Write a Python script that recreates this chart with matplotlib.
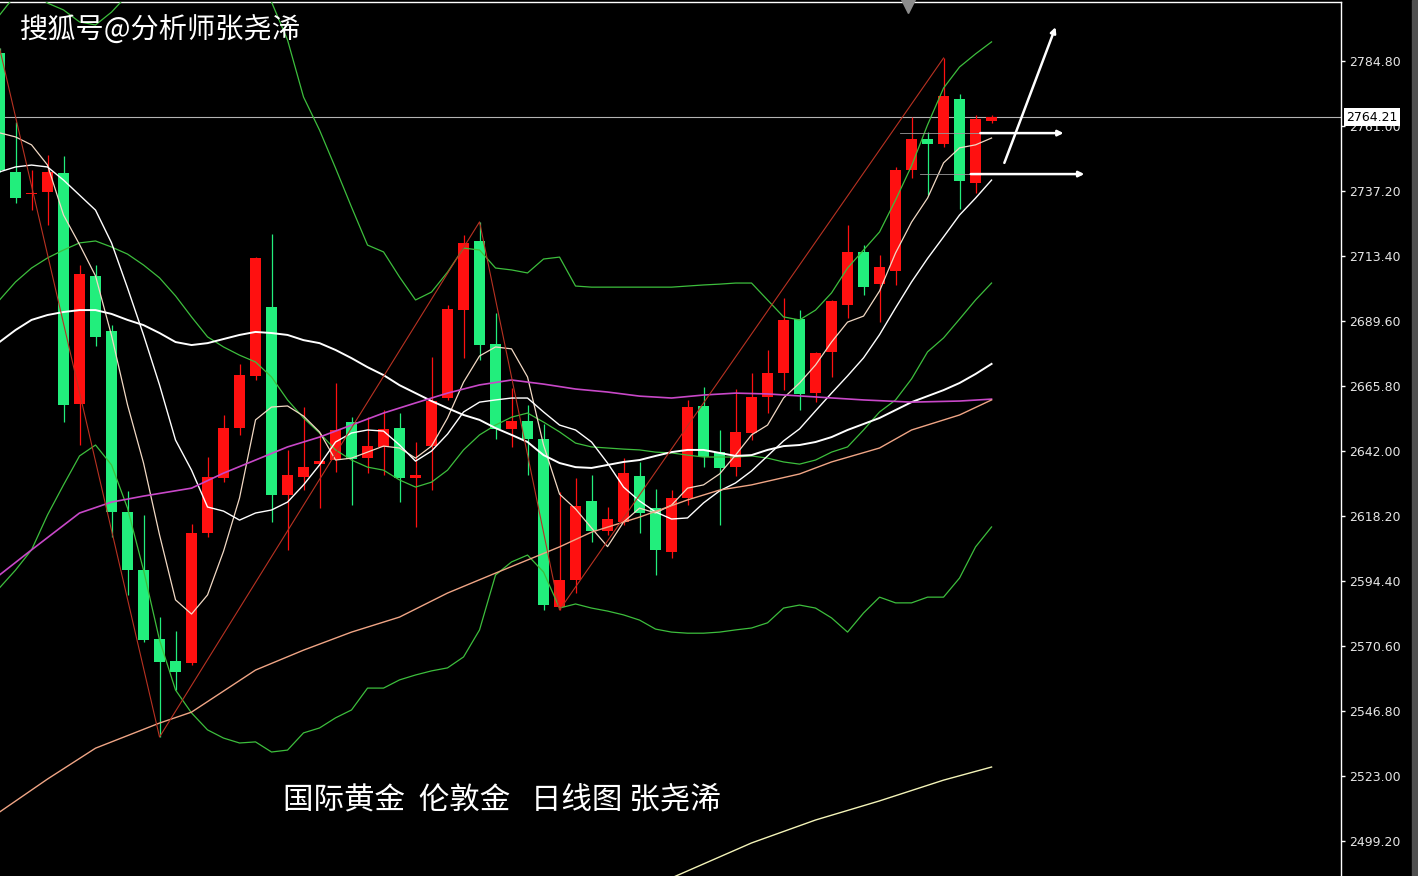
import matplotlib
matplotlib.use("Agg")
import matplotlib.pyplot as plt
import numpy as np

# --- daily London gold candles, oldest first ---------------------------------
opens = [2787.7, 2744.2, 2736.1, 2736.8, 2743.8, 2659.2, 2706.1, 2685.9, 2619.7, 2598.4,
         2573.2, 2565.1, 2564.4, 2612.0, 2632.1, 2650.4, 2669.5, 2694.7, 2625.9, 2632.5,
         2637.2, 2638.7, 2652.6, 2639.4, 2643.5, 2650.4, 2632.1, 2643.8, 2661.4, 2693.6,
         2718.9, 2681.2, 2650.1, 2653.0, 2646.4, 2584.9, 2594.8, 2623.7, 2612.7, 2616.0,
         2632.9, 2621.1, 2605.0, 2624.8, 2658.5, 2641.6, 2636.1, 2648.6, 2661.8, 2670.6,
         2690.3, 2663.3, 2678.3, 2695.5, 2714.9, 2703.2, 2707.9, 2744.9, 2756.2, 2754.4,
         2770.9, 2740.1, 2762.8]
highs = [2789.6, 2762.5, 2744.9, 2750.4, 2750.0, 2710.1, 2710.1, 2688.1, 2627.4, 2618.6,
         2581.2, 2576.1, 2615.3, 2639.8, 2655.2, 2673.9, 2713.0, 2721.5, 2642.4, 2658.1,
         2648.6, 2666.9, 2654.5, 2654.5, 2657.0, 2655.9, 2645.3, 2676.4, 2695.5, 2721.1,
         2725.9, 2692.5, 2665.1, 2658.9, 2651.9, 2627.0, 2632.1, 2633.2, 2621.5, 2639.4,
         2638.0, 2628.1, 2627.7, 2660.7, 2665.4, 2649.7, 2664.7, 2670.6, 2679.0, 2698.0,
         2693.6, 2678.3, 2697.3, 2724.8, 2717.4, 2713.8, 2746.0, 2764.3, 2758.8, 2785.9,
         2772.7, 2765.0, 2765.0]
lows = [2744.2, 2732.8, 2730.2, 2724.8, 2652.6, 2644.2, 2680.5, 2610.5, 2589.3, 2572.0,
        2537.3, 2554.5, 2563.6, 2610.5, 2630.6, 2647.9, 2668.0, 2616.0, 2605.8, 2627.7,
        2621.1, 2634.3, 2622.2, 2633.9, 2633.2, 2623.3, 2614.2, 2627.7, 2660.7, 2676.1,
        2675.3, 2646.4, 2643.5, 2633.2, 2583.8, 2583.8, 2590.0, 2608.7, 2611.2, 2614.9,
        2612.0, 2596.6, 2602.8, 2622.2, 2636.1, 2614.9, 2632.9, 2646.0, 2655.9, 2664.4,
        2657.0, 2659.9, 2669.1, 2690.7, 2699.1, 2689.2, 2702.8, 2742.0, 2735.7, 2753.3,
        2730.6, 2736.5, 2762.1]
closes = [2744.9, 2734.6, 2736.5, 2744.2, 2658.9, 2706.8, 2683.8, 2619.7, 2598.4, 2572.8,
          2564.7, 2561.1, 2612.0, 2632.5, 2650.4, 2669.8, 2712.7, 2625.9, 2633.2, 2636.1,
          2638.3, 2649.7, 2639.1, 2643.8, 2650.1, 2632.1, 2633.2, 2660.3, 2694.0, 2718.2,
          2680.8, 2650.1, 2653.0, 2646.4, 2585.6, 2594.8, 2621.9, 2612.7, 2617.1, 2633.9,
          2619.3, 2605.8, 2624.8, 2658.1, 2639.8, 2635.8, 2649.0, 2661.8, 2670.6, 2690.0,
          2662.9, 2677.9, 2696.9, 2714.9, 2702.1, 2709.4, 2744.9, 2756.2, 2754.4, 2772.0,
          2740.9, 2763.6, 2764.21]

# --- overlays, one value per bar ---------------------------------------------
ma5 = [2758.5, 2757.0, 2754.1, 2746.7, 2728.4, 2717.6, 2706.1, 2684.3, 2658.9, 2637.6,
       2611.3, 2587.5, 2582.3, 2589.3, 2605.3, 2624.8, 2653.4, 2658.1, 2658.5, 2654.8,
       2649.0, 2638.7, 2639.4, 2641.6, 2643.8, 2643.1, 2639.4, 2643.8, 2654.1, 2667.2,
       2676.8, 2680.1, 2679.4, 2669.1, 2644.2, 2626.2, 2620.8, 2613.8, 2607.0, 2616.0,
       2621.1, 2619.3, 2622.2, 2628.4, 2629.6, 2633.6, 2640.5, 2647.9, 2651.5, 2661.4,
       2666.9, 2673.5, 2681.9, 2689.2, 2691.4, 2700.6, 2714.5, 2725.8, 2734.6, 2747.5,
       2753.0, 2754.1, 2756.6]
ma10 = [2744.2, 2746.0, 2746.7, 2746.0, 2741.2, 2735.7, 2730.2, 2718.2, 2701.7, 2684.5,
        2666.2, 2646.0, 2635.0, 2621.5, 2620.0, 2616.7, 2619.3, 2620.4, 2623.3, 2629.6,
        2636.9, 2645.3, 2648.6, 2649.7, 2649.3, 2644.2, 2638.3, 2642.0, 2648.2, 2656.3,
        2659.9, 2660.7, 2661.4, 2661.4, 2656.3, 2651.5, 2649.7, 2645.3, 2637.6, 2628.8,
        2623.7, 2619.7, 2617.1, 2617.5, 2623.0, 2627.4, 2630.3, 2634.7, 2640.2, 2645.7,
        2650.1, 2656.7, 2663.2, 2669.5, 2676.1, 2684.6, 2694.4, 2703.9, 2712.5, 2720.4,
        2728.4, 2734.6, 2741.2]
ma30 = [2681.9, 2686.3, 2690.0, 2691.8, 2692.9, 2693.6, 2693.6, 2692.2, 2690.0, 2688.1,
        2685.2, 2681.9, 2680.8, 2681.5, 2683.0, 2684.5, 2685.6, 2685.2, 2684.5, 2682.6,
        2681.5, 2679.0, 2676.0, 2672.7, 2669.8, 2666.1, 2663.2, 2660.3, 2657.7, 2655.2,
        2653.4, 2650.4, 2647.9, 2645.3, 2640.5, 2637.6, 2636.1, 2635.8, 2636.9, 2638.0,
        2638.7, 2640.2, 2641.6, 2642.4, 2642.4, 2641.3, 2640.2, 2640.5, 2642.4, 2643.8,
        2644.2, 2645.3, 2647.1, 2649.7, 2651.9, 2654.1, 2657.0, 2659.9, 2662.1, 2664.3,
        2666.9, 2670.2, 2673.9]
boll_up = [2801.6, 2809.0, 2810.8, 2806.0, 2803.5, 2799.1, 2798.0, 2802.7, 2809.0, 2821.8,
           2838.3, 2845.6, 2838.3, 2829.1, 2823.6, 2818.1, 2812.6, 2806.4, 2792.5, 2771.6,
           2759.5, 2745.6, 2731.3, 2717.4, 2714.9, 2705.7, 2697.3, 2700.2, 2707.5, 2716.3,
           2715.6, 2709.0, 2708.3, 2707.2, 2712.3, 2713.0, 2702.4, 2702.0, 2702.0, 2702.0,
           2702.0, 2702.0, 2702.0, 2702.4, 2702.8, 2703.1, 2703.5, 2703.5, 2697.3, 2691.1,
           2690.0, 2693.6, 2699.9, 2709.0, 2715.6, 2722.2, 2733.9, 2746.4, 2761.4, 2774.9,
           2782.6, 2787.4, 2791.8]
boll_mid = [2697.3, 2703.9, 2709.0, 2712.7, 2715.6, 2718.2, 2718.9, 2716.7, 2714.1, 2710.1,
            2705.4, 2698.8, 2691.1, 2683.8, 2680.1, 2677.1, 2674.6, 2669.1, 2660.7, 2654.1,
            2648.6, 2642.4, 2638.7, 2636.1, 2635.0, 2631.4, 2628.8, 2630.6, 2635.0, 2642.4,
            2647.9, 2651.5, 2654.4, 2655.9, 2652.6, 2649.0, 2644.9, 2643.5, 2643.1, 2642.7,
            2642.4, 2641.6, 2641.3, 2640.5, 2639.8, 2639.8, 2639.8, 2640.2, 2639.4, 2638.0,
            2637.2, 2638.7, 2641.6, 2643.5, 2649.7, 2656.3, 2660.7, 2668.4, 2678.3, 2683.4,
            2690.3, 2697.3, 2703.5]
boll_low = [2591.9, 2598.4, 2605.8, 2618.6, 2629.6, 2640.2, 2644.2, 2636.9, 2621.1, 2598.4,
            2572.8, 2554.5, 2546.1, 2539.9, 2536.9, 2535.1, 2535.5, 2531.8, 2532.5, 2538.8,
            2540.6, 2544.3, 2547.2, 2555.2, 2555.2, 2558.2, 2560.0, 2561.5, 2562.6, 2566.6,
            2576.5, 2596.6, 2601.4, 2603.9, 2597.7, 2584.5, 2586.0, 2584.5, 2583.4, 2582.0,
            2580.1, 2576.8, 2575.7, 2575.3, 2575.3, 2575.7, 2576.5, 2577.2, 2579.1, 2584.5,
            2585.6, 2584.5, 2580.9, 2575.7, 2582.7, 2588.5, 2586.4, 2586.4, 2588.5, 2588.5,
            2595.5, 2606.9, 2614.2]

# slower averages, read at a few bars only
ma60_bar = [0, 2, 5, 7, 9, 12, 14, 16, 18, 20, 22, 24, 26, 28, 30, 32, 34, 36, 38, 40,
            42, 44, 46, 48, 51, 54, 57, 60, 62]
ma60 = [2596.6, 2605.8, 2619.3, 2623.3, 2625.5, 2628.4, 2633.9, 2638.7, 2643.5, 2647.1,
        2651.5, 2655.9, 2659.6, 2663.2, 2666.2, 2668.0, 2666.5, 2664.7, 2663.6, 2662.1,
        2661.4, 2662.5, 2663.2, 2662.9, 2661.8, 2660.7, 2659.9, 2660.3, 2661.0]
ma120_bar = [0, 3, 6, 10, 12, 16, 19, 22, 25, 28, 31, 33, 35, 37, 40, 43, 45, 47, 50, 52,
             55, 57, 60, 62]
ma120 = [2509.8, 2521.9, 2533.2, 2542.4, 2546.4, 2561.8, 2569.1, 2575.7, 2581.2, 2590.0,
         2597.3, 2602.1, 2606.9, 2612.3, 2617.8, 2624.1, 2627.7, 2629.6, 2633.6, 2638.0,
         2643.1, 2649.7, 2655.2, 2660.7]
ma250_bar = [42, 47, 51, 55, 59, 62]
ma250 = [2485.7, 2498.5, 2506.9, 2513.9, 2521.5, 2526.3]

zigzag_bar = [0, 10, 30, 35, 59]
zigzag_px = [highs[0], lows[10], highs[30], lows[35], highs[59]]

last_price = 2764.21
price_ticks = [2499.20, 2523.00, 2546.80, 2570.60, 2594.40, 2618.20, 2642.00,
               2665.80, 2689.60, 2713.40, 2737.20, 2761.00, 2784.80]

# hand-drawn arrows: (bar, price) tail -> head
arrow_tails = [(61.3, 2758.4), (60.7, 2743.4), (62.8, 2747.5)]
arrow_heads = [(66.5, 2758.4), (67.8, 2743.4), (66.0, 2797.2)]

UP, DOWN = "#FF1010", "#22EE7C"
CJK = ["Noto Sans CJK SC", "DejaVu Sans"]

fig = plt.figure(figsize=(14.18, 8.76), dpi=100, facecolor="black")
ax = fig.add_axes([0, 0, 1341 / 1418, 874 / 876])
ax.set_facecolor("black")
ax.set_xlim(0.03, 83.84)
ax.set_ylim(2486.4, 2806.4)

o, h, l, c = map(np.array, (opens, highs, lows, closes))
idx = np.arange(len(c))
cols = [UP if cc >= oo else DOWN for oo, cc in zip(o, c)]
ax.vlines(idx, l, h, colors=cols, lw=0.9, zorder=3)
ax.bar(idx, np.maximum(np.abs(c - o), 0.5), width=0.69, bottom=np.minimum(o, c),
       color=cols, lw=0, zorder=3)

# indicators on top of the bars, like the terminal draws them
ax.plot(idx, boll_up, color="#3DBE3D", lw=0.9, zorder=4)
ax.plot(idx, boll_mid, color="#3DBE3D", lw=0.9, zorder=4)
ax.plot(idx, boll_low, color="#3DBE3D", lw=0.9, zorder=4)
ax.plot(idx, ma5, color="#F2D9C4", lw=0.9, zorder=4)
ax.plot(idx, ma10, color="white", lw=1.0, zorder=4)
ax.plot(idx, ma30, color="white", lw=1.4, zorder=4)
ax.plot(ma60_bar, ma60, color="#C848C8", lw=1.2, zorder=4)
ax.plot(ma120_bar, ma120, color="#F0A585", lw=1.0, zorder=4)
ax.plot(ma250_bar, ma250, color="#F4F4B8", lw=1.0, zorder=4)
ax.plot(zigzag_bar, zigzag_px, color="#B83222", lw=0.8, zorder=4)

ax.axhline(last_price, color="#B4B4B4", lw=0.8, zorder=2)

# faint tails of the two horizontal arrows
ax.plot([56.3, 61.3], [2758.4, 2758.4], color="#9A9A9A", lw=0.6, zorder=4)
ax.plot([57.5, 60.7], [2743.4, 2743.4], color="#9A9A9A", lw=0.6, zorder=4)
for (tx, ty), (hx, hy) in zip(arrow_tails, arrow_heads):
    ax.annotate("", xy=(hx, hy), xytext=(tx, ty), zorder=5,
                arrowprops=dict(arrowstyle="-|>", color="white", lw=1.8,
                                mutation_scale=8, shrinkA=0, shrinkB=0))

# grey marker at the top edge
ax.plot([56.75], [2805.0], marker="v", ms=10, color="#8C8C8C", clip_on=False, zorder=6)

for s in ("left", "bottom"):
    ax.spines[s].set_visible(False)
for s in ("top", "right"):
    ax.spines[s].set_color("white")
    ax.spines[s].set_linewidth(1.0)
ax.set_xticks([])
ax.yaxis.tick_right()
ax.set_yticks(price_ticks, [f"{p:.2f}" for p in price_ticks])
ax.tick_params(axis="y", colors="white", labelcolor="#E6E6E6", length=3, width=1,
               direction="out", pad=3, labelsize=9)

ax.text(1.0 + 5 / 1341, last_price, f"{last_price:.2f}", transform=ax.get_yaxis_transform(),
        ha="left", va="center", fontsize=9, color="black", zorder=10, clip_on=False,
        bbox=dict(boxstyle="square,pad=0.2", fc="white", ec="none"))

fig.text(20 / 1418, 1 - 31 / 876, "搜狐号@分析师张尧浠", family=CJK, fontsize=20.3,
         color="white", ha="left", va="center")
fig.text(283 / 1418, 1 - 800 / 876, "国际黄金  伦敦金   日线图 张尧浠", family=CJK,
         fontsize=22, color="white", ha="left", va="center")

fig.patches.append(plt.Rectangle((1412 / 1418, 0), 6 / 1418, 1, transform=fig.transFigure,
                                 color="#505050", zorder=0))

fig.savefig("out.png", dpi=100, facecolor="black")
